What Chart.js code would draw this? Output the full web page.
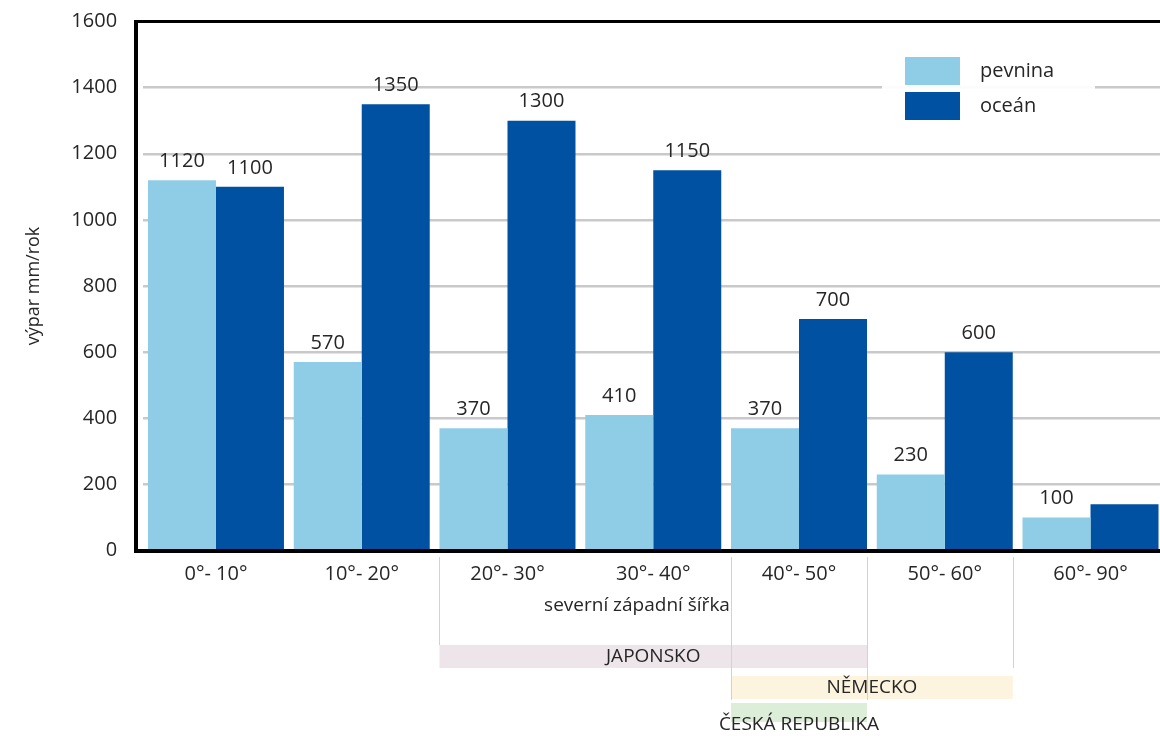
<!DOCTYPE html>
<html>
<head>
<meta charset="utf-8">
<script src="https://cdn.jsdelivr.net/npm/chart.js@4.4.1/dist/chart.umd.min.js"></script>
<style>
  html, body { margin: 0; padding: 0; background: #ffffff; overflow: hidden; width: 1160px; height: 736px; }
  #wrap { position: absolute; left: 0; top: 0; }
  canvas { display: block; }
</style>
</head>
<body>
<div id="wrap"><canvas id="c" width="1164" height="736"></canvas></div>
<script>
// ---- data ----
const categories = ["0°- 10°", "10°- 20°", "20°- 30°", "30°- 40°", "40°- 50°", "50°- 60°", "60°- 90°"];
const pevnina = [1120, 570, 370, 410, 370, 230, 100];
const ocean = [1100, 1350, 1300, 1150, 700, 600, 140];
const pevninaLabels = ["1120", "570", "370", "410", "370", "230", "100"];
const oceanLabels = ["1100", "1350", "1300", "1150", "700", "600", ""];
const seriesNames = ["pevnina", "oceán"];
const yTickValues = [0, 200, 400, 600, 800, 1000, 1200, 1400, 1600];
const yTickLabels = ["0", "200", "400", "600", "800", "1000", "1200", "1400", "1600"];
const xTitle = "severní západní šířka";
const yTitle = "výpar mm/rok";
const regionNames = ["JAPONSKO", "NĚMECKO", "ČESKÁ REPUBLIKA"];
const regionFromCat = [2, 4, 4];
const regionToCat = [4, 5, 4];

// ---- styles ----
const FONT = "'Open Sans', 'Noto Sans', sans-serif";
const TEXT = "#262626";
const colLand = "#8fcde7";
const colOcean = "#0051a1";
const regionStyle = [
  { fill: "#eee5ea", y0: 645, y1: 668, textY: 657 },
  { fill: "#fcf4de", y0: 676, y1: 699, textY: 688 },
  { fill: "#dcedd8", y0: 703, y1: 722, textY: 725 }
];

const extras = {
  id: "extras",
  afterDatasetsDraw(chart) {
    const ctx = chart.ctx;
    const m0 = chart.getDatasetMeta(0), m1 = chart.getDatasetMeta(1);
    const W = chart.width;
    ctx.save();
    // data labels
    ctx.font = "20px " + FONT;
    ctx.fillStyle = TEXT;
    ctx.textAlign = "center";
    ctx.textBaseline = "middle";
    m0.data.forEach((b, i) => { if (pevninaLabels[i]) ctx.fillText(pevninaLabels[i], b.x, b.y - 19); });
    m1.data.forEach((b, i) => { if (oceanLabels[i]) ctx.fillText(oceanLabels[i], b.x, b.y - 19); });

    // frame
    ctx.fillStyle = "#000";
    ctx.fillRect(134, 20, 4, 533);
    ctx.fillRect(134, 20, W, 3);
    ctx.fillRect(134, 549, W, 4);

    // legend
    ctx.fillStyle = "rgba(255,255,255,0.93)";
    ctx.fillRect(882, 46, 213, 84);
    const ds = chart.data.datasets;
    const ly = [57, 92];
    ds.forEach((d, k) => {
      ctx.fillStyle = d.backgroundColor;
      ctx.fillRect(905, ly[k], 55, 28);
      ctx.fillStyle = TEXT;
      ctx.textAlign = "left";
      ctx.textBaseline = "middle";
      ctx.font = "20px " + FONT;
      ctx.fillText(d.label, 980, ly[k] + 14);
    });

    // x title
    ctx.textAlign = "center";
    ctx.font = "19px " + FONT;
    ctx.fillStyle = TEXT;
    ctx.fillText(xTitle, 637, 606);

    // region bands
    const leftOf = i => m0.data[i].x - m0.data[i].width / 2;
    const rightOf = i => m1.data[i].x + m1.data[i].width / 2;
    regionNames.forEach((name, r) => {
      const st = regionStyle[r];
      const x0 = leftOf(regionFromCat[r]), x1 = rightOf(regionToCat[r]);
      ctx.fillStyle = st.fill;
      ctx.fillRect(x0, st.y0, x1 - x0, st.y1 - st.y0);
    });
    // guide lines
    ctx.strokeStyle = "#d2d2d2";
    ctx.lineWidth = 1;
    const guides = [
      [leftOf(regionFromCat[0]), 645],
      [leftOf(regionFromCat[1]), 700],
      [rightOf(regionToCat[0]), 700],
      [rightOf(regionToCat[1]), 668]
    ];
    guides.forEach(([gx, gy]) => {
      ctx.beginPath();
      ctx.moveTo(Math.round(gx) + 0.5, 557);
      ctx.lineTo(Math.round(gx) + 0.5, gy);
      ctx.stroke();
    });
    regionNames.forEach((name, r) => {
      const st = regionStyle[r];
      const x0 = leftOf(regionFromCat[r]), x1 = rightOf(regionToCat[r]);
      ctx.fillStyle = TEXT;
      ctx.font = "19px " + FONT;
      ctx.textAlign = "center";
      ctx.textBaseline = "middle";
      ctx.fillText(name, (x0 + x1) / 2, st.textY);
    });
    ctx.restore();
  }
};

new Chart(document.getElementById("c"), {
  type: "bar",
  data: {
    labels: categories,
    datasets: [
      { label: seriesNames[0], data: pevnina, backgroundColor: colLand, borderWidth: 0,
        categoryPercentage: 0.933, barPercentage: 1.0 },
      { label: seriesNames[1], data: ocean, backgroundColor: colOcean, borderWidth: 0,
        categoryPercentage: 0.933, barPercentage: 1.0 }
    ]
  },
  options: {
    responsive: false,
    animation: false,
    devicePixelRatio: 1,
    layout: { padding: { top: 21.5, left: 0, right: 0.6, bottom: 0 } },
    plugins: { legend: { display: false }, tooltip: { enabled: false } },
    scales: {
      x: {
        afterFit: s => { s.height = 185.5; s.paddingLeft = 0; s.paddingRight = 0; },
        grid: { display: false, drawTicks: false },
        border: { display: false },
        ticks: { color: TEXT, font: { family: FONT, size: 20 }, padding: 12, maxRotation: 0 }
      },
      y: {
        min: 0, max: 1600,
        afterFit: s => { s.width = 143.1; s.paddingTop = 0; s.paddingBottom = 0; },
        afterBuildTicks: s => { s.ticks = yTickValues.map(v => ({ value: v })); },
        grid: { color: "#c9c9c9", lineWidth: 2.5, drawTicks: false },
        border: { display: false },
        ticks: {
          color: TEXT, font: { family: FONT, size: 20 }, padding: 26,
          callback: (v) => yTickLabels[yTickValues.indexOf(v)]
        },
        title: { display: true, text: yTitle, color: TEXT, font: { family: FONT, size: 18 }, padding: { top: 23, bottom: 0 } }
      }
    }
  },
  plugins: [extras]
});
</script>
</body>
</html>
